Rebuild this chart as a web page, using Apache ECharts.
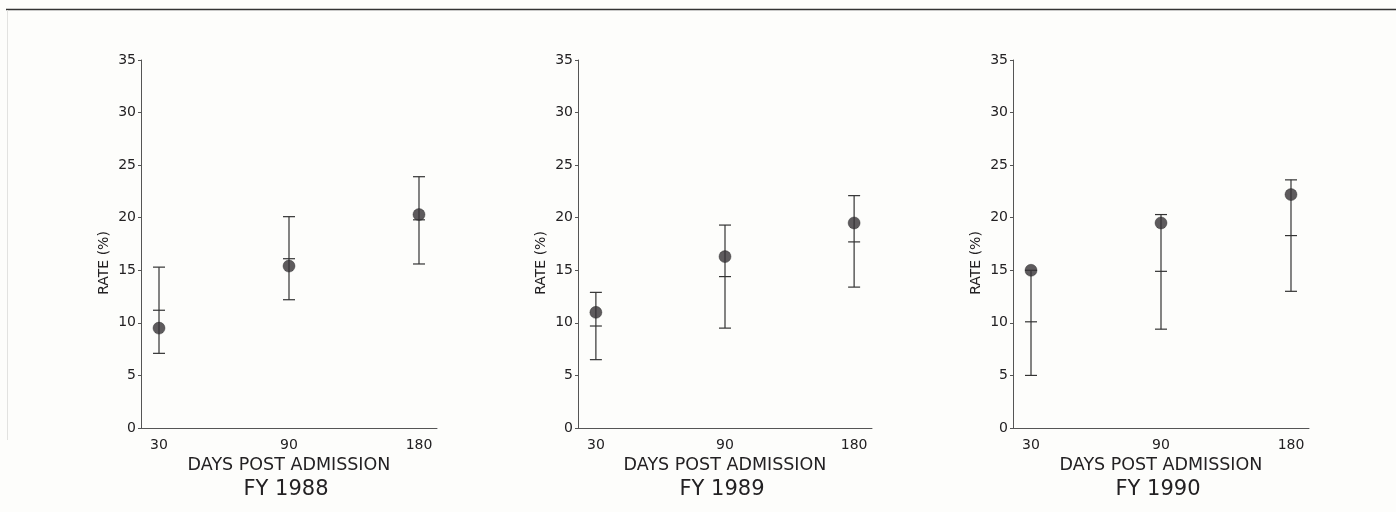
<!DOCTYPE html>
<html>
<head>
<meta charset="utf-8">
<script src="https://cdn.jsdelivr.net/npm/echarts@6/dist/echarts.min.js"></script>
<style>
html,body{margin:0;padding:0;background:#fdfdfb;}
#c{width:1396px;height:512px;}
</style>
</head>
<body>
<div id="c"></div>
<script>
const categories = ['30', '90', '180'];
const panelTitles = ['FY 1988', 'FY 1989', 'FY 1990'];
const yTicks = [0, 5, 10, 15, 20, 25, 30, 35];

// observed rate (dots)
const rate1988 = [9.5, 15.4, 20.3];
const rate1989 = [11.0, 16.3, 19.5];
const rate1990 = [15.0, 19.5, 22.2];
// interval lower bound
const low1988 = [7.1, 12.2, 15.6];
const low1989 = [6.5, 9.5, 13.4];
const low1990 = [5.0, 9.4, 13.0];
// interval upper bound
const high1988 = [15.3, 20.1, 23.9];
const high1989 = [12.9, 19.3, 22.1];
const high1990 = [15.0, 20.3, 23.6];
// middle tick (expected rate)
const mid1988 = [11.2, 16.1, 19.8];
const mid1989 = [9.7, 14.4, 17.7];
const mid1990 = [10.1, 14.9, 18.3];

const rates = [rate1988, rate1989, rate1990];
const lows = [low1988, low1989, low1990];
const highs = [high1988, high1989, high1990];
const mids = [mid1988, mid1989, mid1990];

const FONT = 'DejaVu Sans';
const INK = '#232123';
const gridLefts = [141, 578, 1013];
const gridWidths = [296, 294, 296];

const chart = echarts.init(document.getElementById('c'), null, {renderer: 'canvas'});

const grids = [], xAxes = [], yAxes = [], series = [], titles = [];
for (let p = 0; p < 3; p++) {
  grids.push({left: gridLefts[p], width: gridWidths[p], top: 60, height: 368, containLabel: false});
  const pad = 0.1385;
  xAxes.push({
    type: 'value', gridIndex: p, min: -pad, max: 2 + pad,
    axisLine: {show: true, onZero: false, lineStyle: {color: '#555', width: 1}},
    axisTick: {show: false},
    splitLine: {show: false},
    axisLabel: {
      customValues: [0, 1, 2], margin: 10, color: INK, fontFamily: FONT, fontSize: 14,
      formatter: v => categories[Math.round(v)]
    },
    name: 'DAYS POST ADMISSION', nameLocation: 'middle', nameGap: 25,
    nameTextStyle: {color: INK, fontFamily: FONT, fontSize: 17.5}
  });
  yAxes.push({
    type: 'value', gridIndex: p, min: 0, max: 35, interval: 5,
    axisLine: {show: true, onZero: false, lineStyle: {color: '#555', width: 1}},
    axisTick: {show: true, length: 3, lineStyle: {color: '#555'}},
    splitLine: {show: false},
    axisLabel: {margin: 5, color: INK, fontFamily: FONT, fontSize: 14,
      formatter: v => (yTicks.indexOf(v) >= 0 ? String(v) : '')},
    name: 'RATE (%)', nameLocation: 'middle', nameGap: 30, nameRotate: 90,
    nameTextStyle: {color: INK, fontFamily: FONT, fontSize: 14, padding: [0, 38, 0, 0]}
  });
  titles.push({
    text: panelTitles[p], left: gridLefts[p] + gridWidths[p] / 2 - 8, top: 474, textAlign: 'center',
    textStyle: {color: INK, fontFamily: FONT, fontSize: 21, fontWeight: 'normal'}
  });
  const barData = categories.map((c, i) => [i, lows[p][i], highs[p][i], mids[p][i]]);
  series.push({
    type: 'custom', xAxisIndex: p, yAxisIndex: p,
    data: barData,
    encode: {x: 0, y: [1, 2]},
    renderItem: function (params, api) {
      const x = api.value(0);
      const lo = api.coord([x, api.value(1)]);
      const hi = api.coord([x, api.value(2)]);
      const md = api.coord([x, api.value(3)]);
      const hw = 6;
      const st = {stroke: '#333', lineWidth: 1.2};
      return {
        type: 'group',
        children: [
          {type: 'line', shape: {x1: lo[0], y1: lo[1], x2: hi[0], y2: hi[1]}, style: st},
          {type: 'line', shape: {x1: lo[0] - hw, y1: lo[1], x2: lo[0] + hw, y2: lo[1]}, style: st},
          {type: 'line', shape: {x1: hi[0] - hw, y1: hi[1], x2: hi[0] + hw, y2: hi[1]}, style: st},
          {type: 'line', shape: {x1: md[0] - hw, y1: md[1], x2: md[0] + hw, y2: md[1]}, style: st}
        ]
      };
    },
    z: 2
  });
  series.push({
    type: 'scatter', xAxisIndex: p, yAxisIndex: p,
    data: categories.map((c, i) => [i, rates[p][i]]),
    symbol: 'circle', symbolSize: 12,
    itemStyle: {color: '#363236', borderColor: '#222', borderWidth: 0.5},
    z: 3
  });
}

chart.setOption({
  backgroundColor: '#fdfdfb',
  animation: false,
  title: titles,
  grid: grids,
  xAxis: xAxes,
  yAxis: yAxes,
  series: series,
  graphic: [
    {type: 'line', shape: {x1: 6, y1: 9.5, x2: 1396, y2: 9.5}, style: {stroke: '#333', lineWidth: 1.5}},
    {type: 'line', shape: {x1: 7.5, y1: 10, x2: 7.5, y2: 440}, style: {stroke: '#e2e2e0', lineWidth: 1}}
  ]
});
</script>
</body>
</html>
